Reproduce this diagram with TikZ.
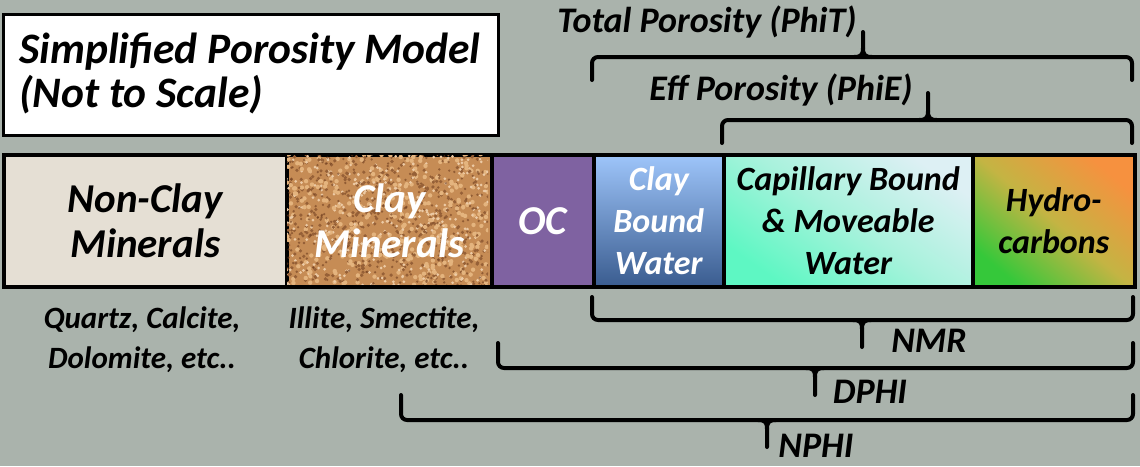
\documentclass[tikz,border=0pt]{standalone}
\usepackage{fontspec}
\setmainfont{Carlito}
\definecolor{bgc}{HTML}{AAB3AC}
\definecolor{nonclayc}{HTML}{E5DFD4}
\definecolor{clayc}{HTML}{C68C55}
\definecolor{clayd}{HTML}{6E3C1E}
\definecolor{clayl}{HTML}{E4B47E}
\definecolor{occ}{HTML}{7F62A1}
\definecolor{cbwtop}{HTML}{9EC5FA}
\definecolor{cbwbot}{HTML}{3A5C8F}
\definecolor{capbl}{HTML}{5EF7C3}
\definecolor{captr}{HTML}{DDF0F4}
\definecolor{capmid}{HTML}{A8F2DC}
\definecolor{hcbl}{HTML}{35C83A}
\definecolor{hcmid}{HTML}{C4B443}
\definecolor{hctr}{HTML}{F6913F}
\newcommand\mybraceD[6]{%
  \draw[brace] (#1,#3) -- (#1,#4) -- (#2,#4) -- (#2,#3);
  \draw[brace, rounded corners=0pt] ({#5-9},#4) .. controls ({#5-2},#4) and (#5,{#4+2}) .. (#5,{#4+9}) -- (#5,#6);
  \draw[brace, rounded corners=0pt] ({#5+9},#4) .. controls ({#5+2},#4) and (#5,{#4+2}) .. (#5,{#4+9});
}
\newcommand\mybraceU[6]{%
  \draw[brace] (#1,#3) -- (#1,#4) -- (#2,#4) -- (#2,#3);
  \draw[brace, rounded corners=0pt] ({#5-9},#4) .. controls ({#5-2},#4) and (#5,{#4-2}) .. (#5,{#4-9}) -- (#5,#6);
  \draw[brace, rounded corners=0pt] ({#5+9},#4) .. controls ({#5+2},#4) and (#5,{#4-2}) .. (#5,{#4-9});
}
\begin{document}
\begin{tikzpicture}[x=1pt,y=-1pt,
  lbl/.style={font=\bfseries\itshape, inner sep=0pt},
  brace/.style={line width=4pt, rounded corners=6pt, line cap=round, line join=round},
  seg/.style={draw=black, line width=3.5pt, inner sep=0pt, anchor=north west, minimum height=132pt, align=center, font=\bfseries\itshape},
  big/.style={font=\bfseries\itshape\fontsize{41}{45}\selectfont},
  small/.style={font=\bfseries\itshape\fontsize{34}{42}\selectfont},
  blab/.style={lbl, font=\bfseries\itshape\fontsize{36}{40}\selectfont, anchor=base},
  list/.style={lbl, font=\bfseries\itshape\fontsize{31}{40}\selectfont, anchor=base, align=center},
]
\useasboundingbox (0,0) rectangle (1140,466);
\fill[bgc] (0,0) rectangle (1140,466);

% title
\node[draw=black, line width=2.5pt, fill=white, minimum width=495pt, minimum height=121pt, anchor=north west, inner sep=0pt] (titlebox) at (2,13) {};
\node[lbl, font=\bfseries\itshape\fontsize{43.5}{44}\selectfont, anchor=base west, align=left] (title) at (19,107) {Simplified Porosity Model\\(Not to Scale)};

% bar segments
\node[seg, minimum width=283pt, fill=nonclayc, big] (nonclay) at (2,153) {Non-Clay\\Minerals};
\node[seg, minimum width=205pt, fill=clayc] (clay) at (285,153) {};
\begin{scope}
  \clip (287,155) rectangle (488,284);
  \pgfmathsetseed{11}
  \foreach \i in {1,...,1400}{
    \pgfmathsetmacro\px{286+205*rnd}
    \pgfmathsetmacro\py{154+132*rnd}
    \pgfmathtruncatemacro\k{mod(\i,4)}
    \ifnum\k=0 \fill[clayd, opacity=0.6] (\px,\py) circle (1.3);
    \else\ifnum\k=1 \fill[clayl] (\px,\py) circle (2.2);
    \else\ifnum\k=2 \fill[clayl!70!white] (\px,\py) circle (1.5);
    \else \fill[clayd!55!clayc] (\px,\py) circle (1.8); \fi\fi\fi
  }
\end{scope}
\node[lbl, big, text=white, align=center] (claytxt) at (clay.center) {Clay\\Minerals};
\node[seg, minimum width=102pt, fill=occ, text=white, big] (oc) at (490,153) {OC};
\node[seg, minimum width=130pt, top color=cbwtop, bottom color=cbwbot, text=white, small] (cbw) at (592,153) {Clay\\Bound\\Water};
\node[seg, minimum width=249pt, top color=captr, bottom color=capbl, middle color=capmid, shading angle=-35, text=black, small] (cap) at (722,153) {Capillary Bound\\\& Moveable\\Water};
\node[seg, minimum width=162pt, top color=hctr, bottom color=hcbl, middle color=hcmid, shading angle=-40, text=black, small] (hc) at (971,153) {Hydro-\\carbons};

% lists
\node[list] (nclist) at (142,368) {Quartz, Calcite,\\Dolomite, etc..};
\node[list] (clist) at (384,368) {Illite, Smectite,\\Chlorite, etc..};

% braces
\mybraceU{592}{1132}{80}{57}{863}{32}
\mybraceU{722}{1132}{143}{120}{928}{93}
\mybraceD{592}{1133}{297}{320}{862}{347}
\mybraceD{498}{1133}{343}{368}{815}{395}
\mybraceD{401}{1133}{395}{420}{767}{447}

% brace labels
\node[blab] (phit) at (707,32) {Total Porosity (PhiT)};
\node[blab] (phie) at (781,100) {Eff Porosity (PhiE)};
\node[blab] (nmr) at (929,352) {NMR};
\node[blab] (dphi) at (870,403) {DPHI};
\node[blab] (nphi) at (816,457) {NPHI};
\end{tikzpicture}
\end{document}
